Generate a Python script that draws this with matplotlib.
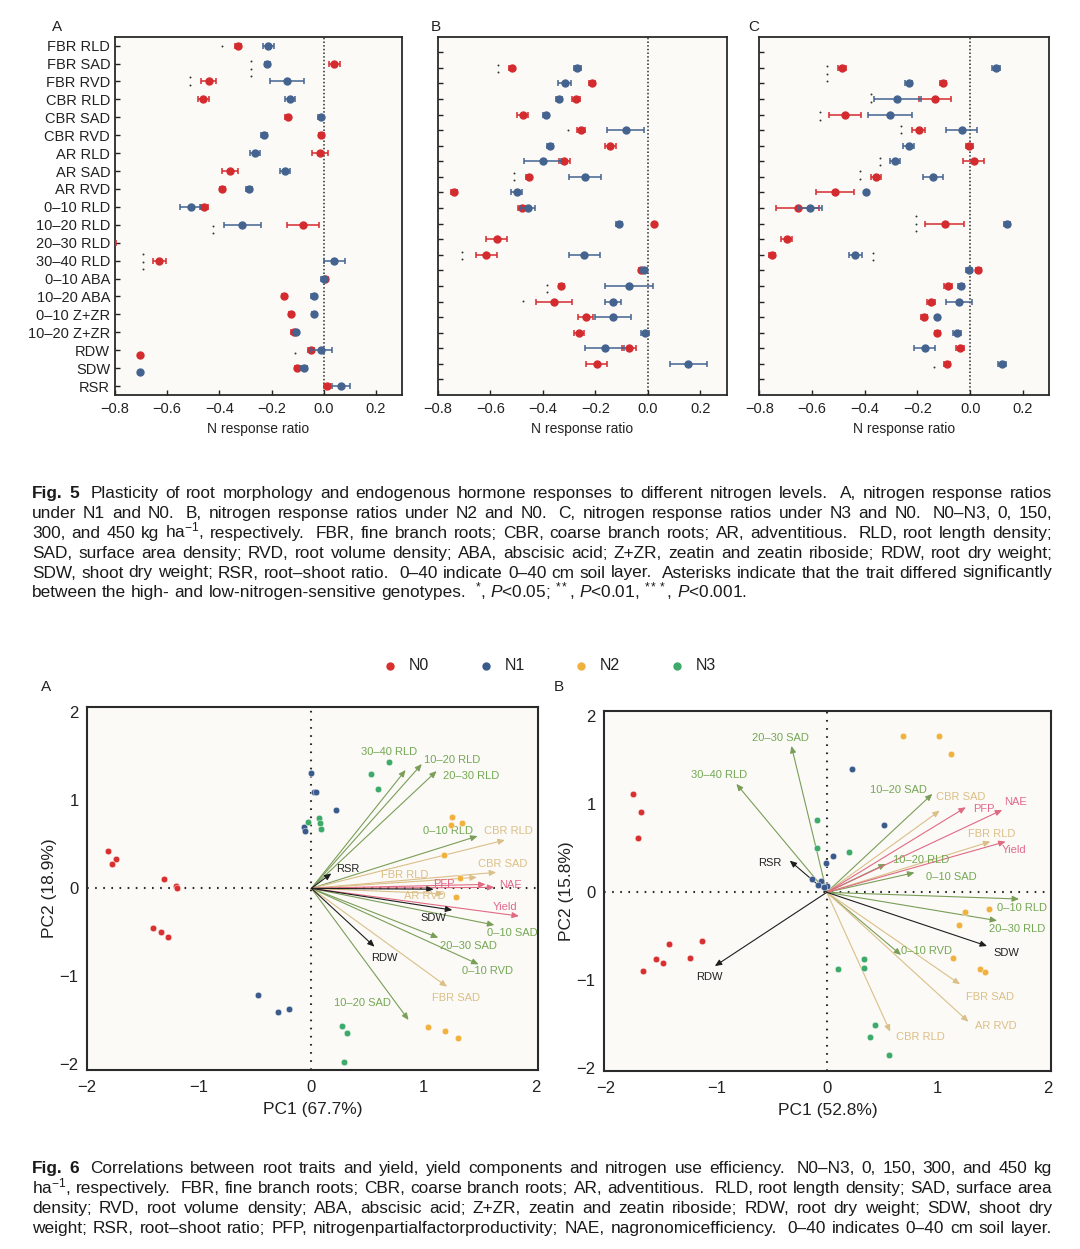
import numpy as np
import matplotlib
matplotlib.use("Agg")
import matplotlib.pyplot as plt
from matplotlib.lines import Line2D
from matplotlib.transforms import offset_copy

plt.rcParams['font.family'] = ['Liberation Sans', 'DejaVu Sans']
plt.rcParams['mathtext.fontset'] = 'custom'
plt.rcParams['mathtext.rm'] = 'Liberation Sans'
plt.rcParams['mathtext.it'] = 'Liberation Sans:italic'
plt.rcParams['mathtext.bf'] = 'Liberation Sans:bold'

nan = np.nan

# ---------------- Fig. 5 data: N response ratios ----------------
traits = ["FBR RLD", "FBR SAD", "FBR RVD", "CBR RLD", "CBR SAD", "CBR RVD",
          "AR RLD", "AR SAD", "AR RVD", "0\u201310 RLD", "10\u201320 RLD",
          "20\u201330 RLD", "30\u201340 RLD", "0\u201310 ABA", "10\u201320 ABA",
          "0\u201310 Z+ZR", "10\u201320 Z+ZR", "RDW", "SDW", "RSR"]

# panel A: N1 vs N0
a_red = [-0.329, 0.041, -0.441, -0.461, -0.138, -0.009, -0.015, -0.358, -0.389, -0.46,
         -0.079, -0.84, -0.631, 0.006, -0.151, -0.127, -0.114, -0.05, -0.102, 0.013]
a_red_err = [0.012, 0.02, 0.03, 0.02, 0.01, 0.01, 0.03, 0.03, 0.01, 0.015,
             0.06, 0.045, 0.025, 0.01, 0.008, 0.008, 0.01, 0.012, 0.01, 0.012]
a_blue = [-0.212, -0.216, -0.141, -0.130, -0.011, -0.229, -0.263, -0.149, -0.286, -0.51,
          -0.312, nan, 0.041, 0.0, -0.039, -0.036, -0.105, -0.009, -0.076, 0.066]
a_blue_err = [0.02, 0.01, 0.066, 0.02, 0.01, 0.01, 0.02, 0.02, 0.01, 0.04,
              0.07, nan, 0.04, 0.01, 0.008, 0.008, 0.008, 0.04, 0.01, 0.035]
# significance marks: (x, row, number of asterisks)
a_stars = [(-0.39, 0.0, 1), (-0.277, 1.3, 3), (-0.513, 1.98, 2), (-0.424, 10.26, 2),
           (-0.692, 12.06, 3), (-0.11, 17.18, 1)]

# panel B: N2 vs N0
b_red = [-0.518, -0.213, -0.275, -0.477, -0.256, -0.143, -0.318, -0.453, -0.738, -0.48,
         0.025, -0.575, -0.616, -0.025, -0.33, -0.357, -0.237, -0.263, -0.072, -0.194]
b_red_err = [0.01, 0.01, 0.015, 0.02, 0.015, 0.02, 0.02, 0.01, 0.01, 0.015,
             0.005, 0.04, 0.04, 0.01, 0.01, 0.07, 0.03, 0.02, 0.025, 0.04]
b_blue = [-0.268, -0.316, -0.338, -0.389, -0.084, -0.373, -0.401, -0.239, -0.5, -0.458,
          -0.11, nan, -0.242, -0.015, -0.072, -0.133, -0.133, -0.01, -0.165, 0.154]
b_blue_err = [0.015, 0.025, 0.01, 0.01, 0.07, 0.01, 0.07, 0.06, 0.02, 0.03,
              0.01, nan, 0.06, 0.01, 0.09, 0.03, 0.07, 0.015, 0.075, 0.07]
b_stars = [(-0.571, 0.05, 2), (-0.304, 4.0, 1), (-0.509, 6.97, 2), (-0.706, 12.05, 2),
           (-0.384, 14.16, 2), (-0.475, 14.97, 1)]

# panel C: N3 vs N0
c_red = [-0.485, -0.103, -0.134, -0.476, -0.196, -0.003, 0.014, -0.358, -0.513, -0.655,
         -0.097, -0.696, -0.753, 0.031, -0.083, -0.15, -0.175, -0.125, -0.039, -0.087]
c_red_err = [0.015, 0.012, 0.062, 0.06, 0.025, 0.012, 0.04, 0.02, 0.073, 0.082,
             0.075, 0.02, 0.012, 0.01, 0.015, 0.015, 0.012, 0.01, 0.015, 0.012]
c_blue = [0.097, -0.234, -0.276, -0.303, -0.033, -0.234, -0.285, -0.141, -0.395, -0.608,
          0.139, nan, -0.436, -0.005, -0.036, -0.043, -0.125, -0.051, -0.173, 0.122]
c_blue_err = [0.015, 0.015, 0.088, 0.083, 0.06, 0.02, 0.02, 0.038, 0.005, 0.045,
              0.012, nan, 0.025, 0.01, 0.012, 0.048, 0.005, 0.015, 0.04, 0.015]
c_stars = [(-0.543, 0.39, 3), (-0.377, 1.95, 2), (-0.571, 3.09, 2), (-0.261, 3.95, 2),
           (-0.341, 6.01, 2), (-0.418, 6.89, 2), (-0.206, 10.01, 3), (-0.369, 12.12, 2),
           (-0.139, 19.21, 1)]

# stray key markers in panel A
key_x = -0.706
key_rows = [17.27, 18.22]

# ---------------- Fig. 6 data: PCA biplots ----------------
groups = ["N0", "N1", "N2", "N3"]

pa_x = {
    "N0": [-1.81, -1.74, -1.78, -1.31, -1.21, -1.20, -1.41, -1.34, -1.28],
    "N1": [-0.006, 0.025, 0.045, 0.216, -0.062, -0.056, -0.478, -0.30, -0.197],
    "N2": [1.256, 1.247, 1.344, 1.184, 1.325, 1.288, 1.038, 1.188, 1.303],
    "N3": [0.694, 0.531, 0.591, -0.031, 0.069, 0.078, 0.088, 0.272, 0.319, 0.288],
}
pa_y = {
    "N0": [0.428, 0.33, 0.277, 0.11, 0.03, 0.0, -0.451, -0.492, -0.549],
    "N1": [1.314, 1.098, 1.098, 0.89, 0.693, 0.655, -1.216, -1.405, -1.371],
    "N2": [0.814, 0.72, 0.739, 0.383, 0.114, -0.102, -1.572, -1.617, -1.705],
    "N3": [1.436, 1.299, 1.129, 0.758, 0.795, 0.746, 0.674, -1.561, -1.64, -1.97],
}
pa_vars = ["30\u201340 RLD", "10\u201320 RLD", "20\u201330 RLD", "0\u201310 RLD", "0\u201310 SAD",
           "20\u201330 SAD", "0\u201310 RVD", "10\u201320 SAD", "CBR RLD", "CBR SAD", "FBR RLD",
           "AR RVD", "FBR SAD", "PFP", "NAE", "Yield", "RSR", "SDW", "RDW", ""]
pa_load_x = [0.84, 0.984, 1.116, 1.481, 1.631, 1.131, 1.49, 0.866, 1.725, 1.647, 1.475,
             1.18, 1.209, 1.553, 1.631, 1.85, 0.178, 1.256, 0.5625, 1.09]
pa_load_y = [1.345, 1.413, 1.333, 0.594, -0.417, -0.561, -0.864, -1.496, 0.549, 0.182, 0.125,
             -0.062, -1.118, 0.045, 0.011, -0.315, 0.17, -0.247, -0.663, -0.01]

pb_x = {
    "N0": [-1.758, -1.688, -1.713, -1.667, -1.55, -1.483, -1.428, -1.239, -1.128],
    "N1": [0.229, 0.52, 0.052, -0.009, -0.138, -0.052, 0.006, -0.076, -0.024],
    "N2": [0.688, 1.018, 1.128, 1.254, 1.468, 1.199, 1.141, 1.391, 1.431],
    "N3": [-0.086, -0.086, 0.199, 0.336, 0.333, 0.098, 0.44, 0.388, 0.566],
}
pb_y = {
    "N0": [1.114, 0.917, 0.621, -0.89, -0.761, -0.807, -0.587, -0.742, -0.549],
    "N1": [1.402, 0.769, 0.413, 0.33, 0.148, 0.133, 0.076, 0.083, 0.057],
    "N2": [1.773, 1.773, 1.572, -0.22, -0.186, -0.371, -0.75, -0.871, -0.902],
    "N3": [0.818, 0.504, 0.462, -0.758, -0.864, -0.875, -1.508, -1.648, -1.845],
}
pb_vars = ["20\u201330 SAD", "30\u201340 RLD", "10\u201320 SAD", "10\u201320 RLD", "0\u201310 SAD",
           "0\u201310 RLD", "20\u201330 RLD", "0\u201310 RVD", "CBR SAD", "FBR RLD", "FBR SAD",
           "AR RVD", "CBR RLD", "PFP", "NAE", "Yield", "RSR", "RDW", "SDW"]
pb_load_x = [-0.321, -0.82, 0.957, 0.535, 0.795, 1.743, 1.544, 0.673, 1.024, 1.483, 1.208,
             1.284, 0.575, 1.26, 1.59, 1.621, -0.336, -1.015, 1.453]
pb_load_y = [1.663, 1.232, 1.118, 0.322, 0.224, -0.076, -0.322, -0.712, 0.928, 0.576, -1.045,
             -1.47, -1.584, 0.966, 0.936, 0.576, 0.36, -0.838, -0.61]

# ---------------- styles ----------------
W, H = 1080, 1249
red_c = "#d42b2f"
blue_c = "#44638f"
bg_c = "#fbfaf7"
group_c = {"N0": "#d7302f", "N1": "#3a5a8c", "N2": "#f0b13e", "N3": "#3daa6a"}
var_kind = {"PFP": "pink", "NAE": "pink", "Yield": "pink",
            "RSR": "black", "SDW": "black", "RDW": "black", "": "black",
            "CBR RLD": "tan", "CBR SAD": "tan", "FBR RLD": "tan", "FBR SAD": "tan", "AR RVD": "tan"}
arrow_c = {"green": "#7a9e58", "tan": "#dbbf88", "pink": "#e06a82", "black": "#1e1e1e"}
label_c = {"green": "#74a854", "tan": "#dcbf86", "pink": "#e2698a", "black": "#222222"}

# label offsets from the arrow tip (data units)
off_a = {"30\u201340 RLD": (-0.15, 0.2), "10\u201320 RLD": (0.27, 0.05), "20\u201330 RLD": (0.31, -0.06),
         "0\u201310 RLD": (-0.26, 0.06), "0\u201310 SAD": (0.16, -0.09), "20\u201330 SAD": (0.27, -0.09),
         "0\u201310 RVD": (0.08, -0.08), "10\u201320 SAD": (-0.41, 0.19), "CBR RLD": (0.03, 0.1),
         "CBR SAD": (0.06, 0.09), "FBR RLD": (-0.64, 0.03), "AR RVD": (-0.17, -0.03),
         "FBR SAD": (0.08, -0.13), "PFP": (-0.375, 0.01), "NAE": (0.14, 0.03),
         "Yield": (-0.125, 0.1), "RSR": (0.15, 0.055), "SDW": (-0.17, -0.09), "RDW": (0.085, -0.125)}
off_b = {"20\u201330 SAD": (-0.1, 0.09), "30\u201340 RLD": (-0.16, 0.1), "10\u201320 SAD": (-0.31, 0.04),
         "10\u201320 RLD": (0.32, 0.045), "0\u201310 SAD": (0.33, -0.045), "0\u201310 RLD": (0.03, -0.1),
         "20\u201330 RLD": (0.18, -0.09), "0\u201310 RVD": (0.23, 0.04), "CBR SAD": (0.19, 0.16),
         "FBR RLD": (0.01, 0.085), "FBR SAD": (0.275, -0.145), "AR RVD": (0.245, -0.05),
         "CBR RLD": (0.27, -0.056), "PFP": (0.16, -0.02), "NAE": (0.12, 0.085),
         "Yield": (0.08, -0.1), "RSR": (-0.18, -0.03), "RDW": (-0.05, -0.125), "SDW": (0.18, -0.08)}

fig = plt.figure(figsize=(W / 100, H / 100), dpi=100)
fig.patch.set_facecolor("white")


def px_axes(x0, y0, x1, y1):
    return fig.add_axes([x0 / W, 1 - y1 / H, (x1 - x0) / W, (y1 - y0) / H])


# === Fig. 5 forest panels ===
rows = np.arange(len(traits))
forest = [
    (px_axes(115, 36.7, 402, 395), a_red, a_red_err, a_blue, a_blue_err, a_stars, "A", 57),
    (px_axes(437.7, 36.7, 726.7, 395), b_red, b_red_err, b_blue, b_blue_err, b_stars, "B", 436),
    (px_axes(759.3, 36.7, 1049.3, 395), c_red, c_red_err, c_blue, c_blue_err, c_stars, "C", 754),
]
for i, (ax, rv, re, bv, be, stars, letter, lx) in enumerate(forest):
    ax.set_facecolor(bg_c)
    ax.axvline(0, color="#2a2a2a", lw=1.1, ls=(0, (1, 1.4)), zorder=1)
    ax.errorbar(rv, rows, xerr=re, fmt="o", color=red_c, ms=5, capsize=2.2,
                elinewidth=1.1, capthick=1.1, zorder=3)
    ax.errorbar(bv, rows, xerr=be, fmt="o", color=blue_c, ms=5, capsize=2.2,
                elinewidth=1.1, capthick=1.1, zorder=4)
    for sx, sy, n in stars:
        for k in range(n):
            tr = offset_copy(ax.transData, fig=fig, x=0, y=((n - 1) / 2 - k) * 5.4, units="points")
            ax.plot([sx], [sy], "o", ms=1.4, color="#333333", mec="none", transform=tr, zorder=2)
    ax.set_xlim(-0.8, 0.3)
    ax.set_xticks([-0.8, -0.6, -0.4, -0.2, 0.0, 0.2])
    if i == 0:
        ax.set_ylim(19.5, -0.5)
        ax.set_yticks(rows)
        ax.set_yticklabels(traits)
        ax.plot([key_x], [key_rows[0]], "o", ms=5, color=red_c, zorder=4)
        ax.plot([key_x], [key_rows[1]], "o", ms=5, color=blue_c, zorder=4)
    else:
        ax.set_ylim(21, -2)
        ax.set_yticks(np.arange(-1, 21))
        ax.set_yticklabels([])
    ax.tick_params(direction="in", length=3.5, width=1, labelsize=10.5, colors="#222222")
    ax.tick_params(axis="x", pad=5)
    ax.tick_params(axis="y", pad=3.5)
    for sp in ax.spines.values():
        sp.set_linewidth(1.3)
        sp.set_color("#2a2a2a")
    ax.set_xlabel("N response ratio", fontsize=10, labelpad=4, color="#222222")
    fig.text(lx / W, 1 - 27 / H, letter, ha="center", va="center", fontsize=11, color="#222222")

# === Fig. 6 PCA panels ===
pca = [
    (px_axes(87, 706.7, 538, 1070), pa_x, pa_y, pa_vars, pa_load_x, pa_load_y, off_a,
     (-2.0, 2.02), (-2.065, 2.065), "PC1 (67.7%)", "PC2 (18.9%)", "A", 45.6),
    (px_axes(604, 711, 1050.7, 1071), pb_x, pb_y, pb_vars, pb_load_x, pb_load_y, off_b,
     (-2.02, 2.03), (-2.03, 2.06), "PC1 (52.8%)", "PC2 (15.8%)", "B", 558.4),
]
for ax, gx, gy, names, lx_, ly_, offs, xl, yl, xlab, ylab, letter, px in pca:
    ax.set_facecolor(bg_c)
    ax.axhline(0, color="#2a2a2a", lw=1.5, ls=(0, (0.8, 3.1)), zorder=1)
    ax.axvline(0, color="#2a2a2a", lw=1.5, ls=(0, (0.8, 3.1)), zorder=1)
    for name, tx, ty in zip(names, lx_, ly_):
        kind = var_kind.get(name, "green")
        ax.annotate("", xy=(tx, ty), xytext=(0, 0),
                    arrowprops=dict(arrowstyle="-|>,head_length=0.5,head_width=0.22",
                                    color=arrow_c[kind], lw=0.8, mutation_scale=8,
                                    shrinkA=0, shrinkB=0), zorder=2)
        if name:
            dx, dy = offs[name]
            ax.text(tx + dx, ty + dy, name, fontsize=8, color=label_c[kind],
                    ha="center", va="center", clip_on=True, zorder=3)
    for g in groups:
        ax.scatter(gx[g], gy[g], s=22, color=group_c[g], edgecolors="white",
                   linewidths=0.3, zorder=4)
    ax.set_xlim(*xl)
    ax.set_ylim(*yl)
    ax.set_xticks([-2, -1, 0, 1, 2])
    ax.set_yticks([-2, -1, 0, 1, 2])
    ax.tick_params(length=0, labelsize=12, colors="#222222")
    ax.tick_params(axis="x", pad=7)
    ax.tick_params(axis="y", pad=6)
    for sp in ax.spines.values():
        sp.set_linewidth(1.5)
        sp.set_color("#2a2a2a")
    ax.set_xlabel(xlab, fontsize=12.5, labelpad=5, color="#222222")
    ax.set_ylabel(ylab, fontsize=12.5, labelpad=2, color="#222222")
    fig.text(px / W, 1 - 686.7 / H, letter, ha="center", va="center", fontsize=11, color="#222222")

# legend row above the PCA panels
for i, g in enumerate(groups):
    x = 390 + i * 95.5
    fig.add_artist(Line2D([x / W], [1 - 665.7 / H], transform=fig.transFigure, marker="o",
                          ms=5, color=group_c[g], ls="none"))
    fig.text((x + 19) / W, 1 - 665.7 / H, g, fontsize=11.5, ha="left", va="center", color="#222222")

# === captions ===
cap5 = [
    "Fig. 5  Plasticity of root morphology and endogenous hormone responses to different nitrogen levels.  A, nitrogen response ratios",
    "under N1 and N0.  B, nitrogen response ratios under N2 and N0.  C, nitrogen response ratios under N3 and N0.  N0\u2013N3, 0, 150,",
    "300, and 450 kg ha$^{-1}$, respectively.  FBR, fine branch roots; CBR, coarse branch roots; AR, adventitious.  RLD, root length density;",
    "SAD, surface area density; RVD, root volume density; ABA, abscisic acid; Z+ZR, zeatin and zeatin riboside; RDW, root dry weight;",
    "SDW, shoot dry weight; RSR, root\u2013shoot ratio.  0\u201340 indicate 0\u201340 cm soil layer.  Asterisks indicate that the trait differed significantly",
    "between the high- and low-nitrogen-sensitive genotypes.  $^{*}$, $\\mathit{P}$<0.05; $^{**}$, $\\mathit{P}$<0.01, $^{***}$, $\\mathit{P}$<0.001.",
]
cap6 = [
    "Fig. 6  Correlations between root traits and yield, yield components and nitrogen use efficiency.  N0\u2013N3, 0, 150, 300, and 450 kg",
    "ha$^{-1}$, respectively.  FBR, fine branch roots; CBR, coarse branch roots; AR, adventitious.  RLD, root length density; SAD, surface area",
    "density; RVD, root volume density; ABA, abscisic acid; Z+ZR, zeatin and zeatin riboside; RDW, root dry weight; SDW, shoot dry",
    "weight; RSR, root\u2013shoot ratio; PFP, nitrogenpartialfactorproductivity; NAE, nagronomicefficiency.  0\u201340 indicates 0\u201340 cm soil layer.",
]

renderer = fig.canvas.get_renderer()
X0, X1 = 32, 1052


def text_w(t):
    return t.get_window_extent(renderer).width


def split_line(line):
    items, gap = [], 0
    for tok in line.split(" "):
        if tok == "":
            gap += 1
            continue
        items.append((tok, gap + 1 if items else 0))
        gap = 0
    return items


def space_w(size):
    t1 = fig.text(0, 0, "a a", fontsize=size)
    t2 = fig.text(0, 0, "aa", fontsize=size)
    w = text_w(t1) - text_w(t2)
    t1.remove()
    t2.remove()
    return w


def natural_width(line, size):
    items = split_line(line)
    total = 0
    for j, (tok, n) in enumerate(items):
        t = fig.text(0, 0, tok, fontsize=size, fontweight="bold" if j < 2 and tok.startswith(("Fig", "5", "6")) else "normal")
        total += text_w(t)
        t.remove()
    return total + sum(n for _, n in items) * space_w(size)


def caption(lines, first_base, step, justify_last, size):
    sp = space_w(size)
    for i, line in enumerate(lines):
        y = 1 - (first_base + i * step) / H
        items = split_line(line)
        texts = []
        for j, (tok, _) in enumerate(items):
            bold = i == 0 and j < 2
            texts.append(fig.text(0, y, tok, fontsize=size, va="baseline", ha="left",
                                  fontweight="bold" if bold else "normal", color="#1a1a1a"))
        widths = [text_w(t) for t in texts]
        nsp = sum(n for _, n in items)
        ngaps = len(items) - 1
        natural = sum(widths) + nsp * sp
        justify = (i < len(lines) - 1) or justify_last
        extra = ((X1 - X0) - natural) / ngaps if (justify and ngaps) else 0
        x = X0
        for t, w, (_, n) in zip(texts, widths, items):
            if n:
                x += n * sp + extra
            t.set_x(x / W)
            x += w


# pick the caption font size so the widest line just fills the column
base = 10
widest = max(natural_width(l, base) for l in cap5[:-1] + cap6)
cap_size = min(13.0, base * (X1 - X0 - 6) / widest)

caption(cap5, 498.3, 19.8, False, cap_size)
caption(cap6, 1173.3, 19.8, True, cap_size)

fig.savefig("out.png", dpi=100, facecolor="white")
